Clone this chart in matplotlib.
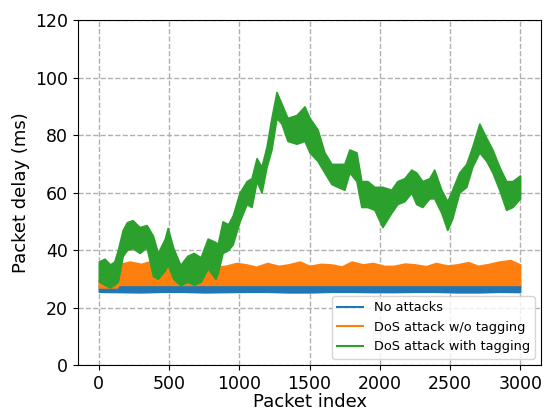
import matplotlib
matplotlib.use("Agg")
import matplotlib.pyplot as plt

# Green: DoS attack with tagging (envelope)
green_idx = [0, 40, 80, 110, 135, 170, 200, 240, 290, 340, 385, 420, 470, 490, 530, 580, 630, 675,
             725, 775, 830, 846, 881, 920, 953, 1002, 1052, 1087, 1123, 1158, 1194, 1229, 1265, 1300,
             1343, 1407, 1464, 1500, 1557, 1606, 1656, 1699, 1748, 1784, 1834, 1869, 1912, 1962, 2019,
             2082, 2125, 2175, 2225, 2260, 2303, 2353, 2388, 2438, 2481, 2516, 2566, 2616, 2659, 2709,
             2759, 2802, 2851, 2900, 2945, 2999]
green_low = [29, 28, 27, 28, 29, 38, 40, 40.7, 39, 41, 31, 30, 33, 35, 30, 27.8, 29, 28,
             29, 33.7, 30, 32, 39, 40, 42, 50, 56, 55, 64, 60, 69, 75, 86, 84,
             78, 77, 78, 74, 71, 67, 63, 62, 61, 67, 64, 55, 55, 54, 48,
             53, 56, 57, 60, 56, 55, 58, 58, 53, 47, 51, 60, 62, 69, 74,
             71, 67, 61, 54, 55, 58]
green_high = [36, 37, 35, 36, 40, 47, 49.7, 50.4, 48, 48.7, 45, 39, 44, 47.7, 40.7, 34.8, 38, 39,
              37.5, 44, 42.8, 42, 50, 49, 52, 60, 64, 65, 72, 69, 76, 86, 95, 91,
              86, 87, 90, 86, 82, 74, 70, 70, 70, 75, 74, 64, 64, 62, 62,
              61, 64, 65, 68, 67, 64, 65, 68, 61, 57, 61, 67, 70, 76, 84,
              79, 75, 69, 64, 64, 66]

# Orange: DoS attack w/o tagging
orange_idx = [0, 130, 140, 220, 300, 380, 450, 520, 600, 680, 750, 830, 900, 980, 1050, 1120,
              1200, 1280, 1350, 1430, 1500, 1580, 1650, 1730, 1800, 1880, 1950, 2030, 2100, 2180,
              2250, 2330, 2400, 2480, 2550, 2630, 2700, 2780, 2850, 2930, 2999]
orange_low = [27.0, 27.0, 27.9, 27.9, 27.9, 27.9, 27.9, 27.9, 27.9, 27.9, 27.9, 27.9, 27.9,
              27.9, 27.9, 27.9, 27.9, 27.9, 27.9, 27.9, 27.9, 27.9, 27.9, 27.9, 27.9, 27.9,
              27.9, 27.9, 27.9, 27.9, 27.9, 27.9, 27.9, 27.9, 27.9, 27.9, 27.9, 27.9, 27.9,
              27.9, 27.9]
orange_high = [30, 30, 35, 36, 35.2, 36.3, 35.5, 35.8, 35, 36, 35, 34.3, 34.5, 35.5, 35, 34.2,
               35.5, 34.5, 35, 36, 34.5, 35.2, 35, 34.3, 36, 35, 35.5, 34.5, 34.5, 35.3,
               35, 34.4, 35.5, 34.6, 35, 35.8, 34.5, 35.2, 36, 36.5, 35]

# Blue: No attacks
blue_idx = [0, 150, 300, 450, 600, 750, 900, 1050, 1200, 1350, 1500, 1650, 1800, 1950,
            2100, 2250, 2400, 2550, 2700, 2850, 2999]
blue_low = [25.5, 25.4, 25.3, 25.5, 25.5, 25.3, 25.4, 25.5, 25.5, 25.3, 25.3, 25.5, 25.5,
            25.4, 25.4, 25.5, 25.5, 25.3, 25.3, 25.5, 25.4]
blue_high = [27.8, 28.2, 28.3, 27.9, 27.8, 28.1, 28.0, 27.8, 27.8, 28.3, 28.2, 27.9, 27.9,
             28.1, 28.0, 27.8, 28.3, 28.0, 27.8, 28.2, 28.0]

labels = ["No attacks", "DoS attack w/o tagging", "DoS attack with tagging"]
colors = ["#1f77b4", "#ff7f0e", "#2ca02c"]

fig = plt.figure(figsize=(5.44, 4.12), dpi=100)
ax = fig.add_axes([0.143, 0.114, 0.852, 0.837])

series = [(blue_idx, blue_low, blue_high), (orange_idx, orange_low, orange_high),
          (green_idx, green_low, green_high)]
for (xi, lo, hi), c, lab in zip(series, colors, labels):
    ax.fill_between(xi, lo, hi, color=c, lw=1.2, edgecolor=c, zorder=2)
    ax.plot([], [], color=c, lw=1.5, label=lab)

ax.set_xlim(-150, 3150)
ax.set_ylim(0, 120)
ax.set_xticks([0, 500, 1000, 1500, 2000, 2500, 3000])
ax.set_yticks([0, 20, 40, 60, 80, 100, 120])
ax.tick_params(labelsize=12.5)
ax.set_xlabel("Packet index", fontsize=13, labelpad=0.5)
ax.set_ylabel("Packet delay (ms)", fontsize=13)
ax.grid(True, linestyle="--", color="#b0b0b0", lw=1.0)
ax.set_axisbelow(True)
ax.legend(loc="lower right", fontsize=9.3, framealpha=0.8)

fig.savefig("out.png", dpi=100)
